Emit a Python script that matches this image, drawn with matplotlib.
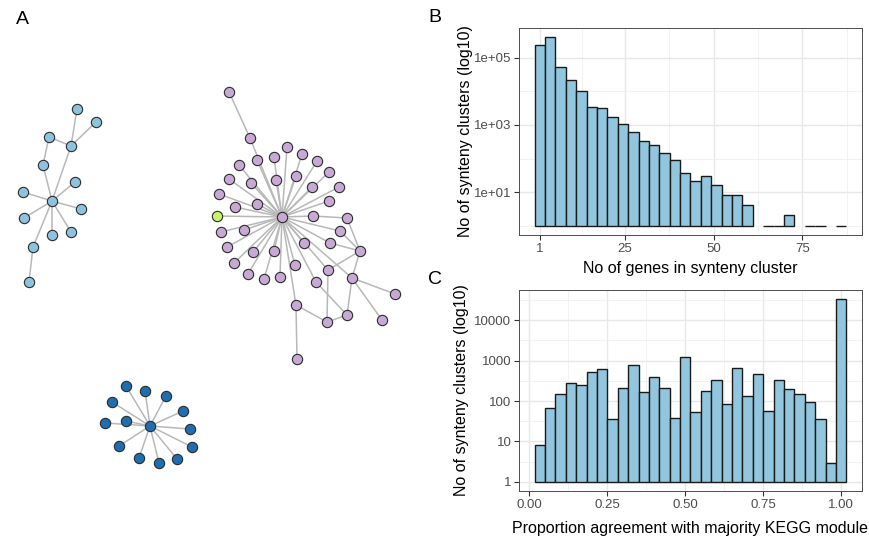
import numpy as np
import matplotlib
matplotlib.use("Agg")
import matplotlib.pyplot as plt
from matplotlib.ticker import FixedLocator, NullFormatter

plt.rcParams["font.family"] = ["Liberation Sans", "DejaVu Sans"]

# ---- panel A: node positions (pixel layout of the drawn graphs) ----
blue_x = [77, 96, 49, 71, 43, 75, 52, 23, 81, 24, 52, 71, 33, 29]
blue_y = [109, 122, 137, 146, 165, 182, 201, 192, 209, 218, 235, 232, 247, 282]
blue_edges = [(0, 3), (1, 3), (2, 3), (2, 4), (4, 6), (3, 6), (5, 6), (7, 6),
              (8, 6), (9, 6), (10, 6), (11, 6), (12, 6), (12, 13)]

dark_x = [150, 126, 145, 166, 112, 183, 105, 126, 190, 119, 192, 139, 159, 177]
dark_y = [426, 386, 391, 396, 402, 411, 423, 421, 429, 446, 447, 458, 463, 459]
dark_edges = [(0, i) for i in range(1, 14)]

purple_x = [282, 229, 250, 257, 239, 274, 287, 302, 317, 329, 229, 251, 276, 296,
            312, 339, 219, 235, 257, 329, 313, 347, 221, 244, 340, 227, 253, 274,
            304, 330, 360, 234, 248, 264, 280, 295, 328, 316, 352, 395, 296, 327,
            347, 382, 297]
purple_y = [217, 92, 138, 160, 165, 157, 147, 154, 161, 172, 179, 183, 180, 176,
            187, 187, 194, 207, 204, 201, 216, 218, 232, 230, 231, 247, 252, 251,
            243, 243, 251, 263, 274, 279, 277, 265, 270, 282, 278, 294, 305, 322,
            315, 320, 359]
hub_links = [2, 3, 4, 5, 6, 7, 8, 9, 10, 11, 12, 13, 14, 15, 16, 17, 18, 19, 20,
             22, 23, 24, 25, 26, 27, 28, 29, 31, 32, 33, 34, 35, 36, 37, 38, 40]
purple_edges = [(0, i) for i in hub_links] + [
    (1, 2), (20, 21), (21, 30), (24, 30), (29, 30), (30, 36), (30, 38),
    (36, 41), (38, 42), (38, 39), (38, 43), (37, 42), (40, 41), (41, 42), (40, 44)]
green_x, green_y = 217, 216

# ---- panel B: genes per synteny cluster ----
gene_min, gene_max = 1, 86
gene_counts = [242000, 408000, 54200, 21400, 10100, 3480, 3250, 1760, 1047, 635,
               344, 251, 145, 88, 37, 22, 30, 16, 8, 8,
               4, 0, 1, 1, 2, 0, 1, 1, 0, 1]

# ---- panel C: proportion agreement with majority KEGG module ----
prop_min, prop_max = 1 / 30, 1.0
prop_counts = [8, 68, 150, 273, 254, 518, 634, 37, 211, 760,
               164, 387, 211, 39, 1200, 55, 180, 328, 85, 645,
               136, 456, 58, 334, 200, 150, 93, 36, 3, 33400]

fill = "#92c5de"
edge_col = "#1a1a1a"

fig = plt.figure(figsize=(8.7, 5.36), dpi=100)

# network panel
axA = fig.add_axes([0, 0, 435 / 870, 1])
axA.set_xlim(0, 435)
axA.set_ylim(536, 0)
axA.axis("off")


def draw_graph(xs, ys, edges, colour):
    for a, b in edges:
        axA.plot([xs[a], xs[b]], [ys[a], ys[b]], color="#b8b8b8", lw=1.1, zorder=1)
    axA.scatter(xs, ys, s=55, c=colour, edgecolors="#2b2b2b", linewidths=0.8, zorder=2)


draw_graph(blue_x, blue_y, blue_edges, "#8ec3e0")
draw_graph(dark_x, dark_y, dark_edges, "#1f6eb0")
axA.plot([green_x, purple_x[0]], [green_y, purple_y[0]], color="#b8b8b8", lw=1.1, zorder=1)
draw_graph(purple_x, purple_y, purple_edges, "#c8a9d6")
axA.scatter([green_x], [green_y], s=55, c="#c8f26a", edgecolors="#2b2b2b",
            linewidths=0.8, zorder=3)


def style_hist(ax):
    ax.set_facecolor("white")
    for sp in ax.spines.values():
        sp.set_color("#4d4d4d")
        sp.set_linewidth(0.7)
    ax.grid(which="major", color="#e8e8e8", lw=1.0, zorder=0)
    ax.grid(which="minor", color="#f0f0f0", lw=0.6, zorder=0)
    ax.set_axisbelow(True)
    ax.tick_params(which="major", length=3.5, width=0.8, color="#333333",
                   labelcolor="#4d4d4d", labelsize=9.5, pad=2)
    ax.tick_params(which="minor", length=0)


def hist_bars(ax, lo, hi, counts):
    w = (hi - lo) / (len(counts) - 1)
    centers = lo + w * np.arange(len(counts))
    c = np.array(counts, dtype=float)
    keep = c > 0
    ax.bar(centers[keep], c[keep] - 1, bottom=1, width=w, color=fill,
           edgecolor=edge_col, linewidth=1.0, zorder=2)
    left, right = centers[0] - w / 2, centers[-1] + w / 2
    pad = 0.05 * (right - left)
    ax.set_xlim(left - pad, right + pad)
    top = np.log10(c.max())
    ax.set_ylim(10 ** (-0.05 * top), 10 ** (1.05 * top))


# panel B
axB = fig.add_axes([519 / 870, 1 - 235 / 536, 343 / 870, 207 / 536])
axB.set_yscale("log")
hist_bars(axB, gene_min, gene_max, gene_counts)
style_hist(axB)
axB.xaxis.set_major_locator(FixedLocator([1, 25, 50, 75]))
axB.xaxis.set_minor_locator(FixedLocator([13, 37.5, 62.5, 87.5]))
axB.yaxis.set_major_locator(FixedLocator([10, 1000, 100000]))
axB.yaxis.set_minor_locator(FixedLocator([1, 100, 10000]))
axB.yaxis.set_minor_formatter(NullFormatter())
axB.set_yticklabels(["1e+01", "1e+03", "1e+05"])
axB.set_xticklabels(["1", "25", "50", "75"])
axB.set_xlabel("No of genes in synteny cluster", fontsize=11.5)
axB.set_ylabel("No of synteny clusters (log10)", fontsize=11.5)
axB.xaxis.set_label_coords(0.5, -0.125)
axB.yaxis.set_label_coords(-0.135, 0.5)

# panel C
axC = fig.add_axes([519 / 870, 1 - 491 / 536, 343 / 870, 201 / 536])
axC.set_yscale("log")
hist_bars(axC, prop_min, prop_max, prop_counts)
style_hist(axC)
axC.xaxis.set_major_locator(FixedLocator([0, 0.25, 0.5, 0.75, 1.0]))
axC.xaxis.set_minor_locator(FixedLocator([0.125, 0.375, 0.625, 0.875]))
axC.yaxis.set_major_locator(FixedLocator([1, 10, 100, 1000, 10000]))
axC.yaxis.set_minor_locator(FixedLocator([10 ** 0.5, 10 ** 1.5, 10 ** 2.5, 10 ** 3.5, 10 ** 4.5]))
axC.yaxis.set_minor_formatter(NullFormatter())
axC.set_yticklabels(["1", "10", "100", "1000", "10000"])
axC.set_xticklabels(["0.00", "0.25", "0.50", "0.75", "1.00"])
axC.set_xlabel("Proportion agreement with majority KEGG module", fontsize=11.5)
axC.set_ylabel("No of synteny clusters (log10)", fontsize=11.5)
axC.xaxis.set_label_coords(0.5, -0.15)
axC.yaxis.set_label_coords(-0.145, 0.5)

fig.text(16 / 870, 1 - 20 / 536, "A", fontsize=14, va="center", ha="left")
fig.text(428 / 870, 1 - 18 / 536, "B", fontsize=14, va="center", ha="left")
fig.text(428 / 870, 1 - 280 / 536, "C", fontsize=14, va="center", ha="left")

fig.savefig("out.png", dpi=100)
